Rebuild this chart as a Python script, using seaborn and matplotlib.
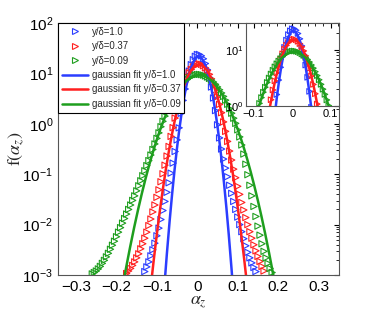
import numpy as np
import pandas as pd
import matplotlib
matplotlib.use("Agg")
import matplotlib.pyplot as plt
import seaborn as sns
from matplotlib.lines import Line2D
from matplotlib.ticker import MultipleLocator, LogLocator, NullFormatter

# measured pdf, y/delta = 1.0
x_b = [-0.130, -0.125, -0.120, -0.115, -0.110, -0.105, -0.100, -0.095, -0.090, -0.085,
       -0.080, -0.075, -0.070, -0.065, -0.060, -0.055, -0.050, -0.045,
       -0.040, -0.035, -0.030, -0.025, -0.020, -0.015, -0.010, -0.005, 0.000, 0.005,
       0.010, 0.015, 0.020, 0.025, 0.030, 0.035, 0.040, 0.045, 0.050,
       0.055, 0.060, 0.065, 0.070, 0.075, 0.080, 0.085, 0.090, 0.095, 0.100,
       0.105, 0.110, 0.115, 0.120, 0.125, 0.130, 0.135, 0.140, 0.145]
f_b = [0.00117, 0.00145, 0.00182, 0.0024, 0.00316, 0.00427, 0.0060, 0.0085, 0.0126, 0.019,
       0.0288, 0.0437, 0.0676, 0.105, 0.166, 0.282, 0.479, 0.832,
       1.61, 2.91, 4.90, 7.64, 11.1, 14.9, 18.7, 21.8, 23.7, 23.8,
       22.3, 19.5, 15.7, 11.8, 8.28, 5.37, 3.25, 1.83, 0.955,
       0.525, 0.316, 0.2, 0.132, 0.0891, 0.0603, 0.0417, 0.0288, 0.02, 0.0141,
       0.01, 0.00724, 0.00525, 0.0038, 0.00282, 0.00219, 0.00174, 0.00141, 0.00117]

# measured pdf, y/delta = 0.37
x_r = [-0.175, -0.170, -0.165, -0.160, -0.155, -0.150, -0.145, -0.140, -0.135, -0.130,
       -0.125, -0.120, -0.115, -0.110, -0.105, -0.100, -0.095, -0.090, -0.085, -0.080,
       -0.075, -0.070, -0.065,
       -0.060, -0.055, -0.050, -0.045, -0.040, -0.035, -0.030, -0.025, -0.020, -0.015,
       -0.010, -0.005, 0.000, 0.005, 0.010, 0.015, 0.020, 0.025, 0.030, 0.035,
       0.040, 0.045, 0.050, 0.055, 0.060, 0.065,
       0.070, 0.075, 0.080, 0.085, 0.090, 0.095, 0.100, 0.105, 0.110, 0.115,
       0.120, 0.125, 0.130, 0.135, 0.140, 0.145, 0.150, 0.155, 0.160, 0.165]
f_r = [0.00107, 0.0012, 0.00135, 0.00155, 0.00182, 0.00219, 0.00263, 0.00331, 0.00417, 0.00537,
       0.00708, 0.00955, 0.0129, 0.0178, 0.0245, 0.0347, 0.049, 0.0708, 0.102, 0.151,
       0.229, 0.355, 0.562,
       0.84, 1.30, 1.94, 2.81, 3.90, 5.25, 6.81, 8.51, 10.3, 12.0,
       13.5, 14.6, 15.3, 15.5, 15.1, 14.2, 12.9, 11.3, 9.57, 7.82,
       6.15, 4.69, 3.44, 2.43, 1.66, 1.09,
       0.708, 0.447, 0.288, 0.191, 0.126, 0.0851, 0.0575, 0.0398, 0.0275, 0.0195,
       0.0138, 0.01, 0.00724, 0.00537, 0.00398, 0.00302, 0.00234, 0.00186, 0.00148, 0.0012]

# measured pdf, y/delta = 0.09
x_g = [-0.260, -0.255, -0.250, -0.245, -0.240, -0.235, -0.230, -0.225, -0.220, -0.215,
       -0.210, -0.205, -0.200, -0.195, -0.190, -0.185, -0.180, -0.175, -0.170, -0.165,
       -0.160, -0.155, -0.150, -0.145, -0.140, -0.135, -0.130, -0.125, -0.120, -0.115,
       -0.110, -0.105, -0.100, -0.095,
       -0.090, -0.085, -0.080, -0.075, -0.070, -0.065, -0.060, -0.055, -0.050, -0.045,
       -0.040, -0.035, -0.030, -0.025, -0.020, -0.015, -0.010, -0.005, 0.000, 0.005,
       0.010, 0.015, 0.020, 0.025, 0.030, 0.035, 0.040, 0.045, 0.050, 0.055,
       0.060, 0.065, 0.070, 0.075, 0.080, 0.085, 0.090, 0.095,
       0.100, 0.105, 0.110, 0.115, 0.120, 0.125, 0.130, 0.135, 0.140, 0.145,
       0.150, 0.155, 0.160, 0.165, 0.170, 0.175, 0.180, 0.185]
f_g = [0.00105, 0.00112, 0.0012, 0.00132, 0.00148, 0.0017, 0.00195, 0.00229, 0.00269, 0.00324,
       0.00389, 0.00468, 0.00575, 0.00708, 0.00871, 0.0107, 0.0132, 0.0162, 0.02, 0.0245,
       0.0302, 0.0372, 0.0468, 0.0589, 0.0741, 0.0933, 0.117, 0.148, 0.186, 0.24,
       0.309, 0.398, 0.513, 0.661,
       0.875, 1.12, 1.42, 1.77, 2.17, 2.64, 3.16, 3.72, 4.35, 4.99,
       5.66, 6.32, 6.98, 7.60, 8.17, 8.67, 9.06, 9.33, 9.51, 9.55,
       9.46, 9.25, 8.91, 8.47, 7.96, 7.36, 6.73, 6.07, 5.38, 4.73,
       4.09, 3.49, 2.94, 2.44, 2.0, 1.62, 1.29, 1.02,
       0.759, 0.55, 0.38, 0.251, 0.158, 0.0977, 0.0603, 0.0372, 0.0229, 0.0145,
       0.00933, 0.00617, 0.00417, 0.00295, 0.00219, 0.0017, 0.00135, 0.00112]

labels = ["y/δ=1.0", "y/δ=0.37", "y/δ=0.09"]
fit_mean = [0.003, 0.004, 0.004]
fit_std = [0.0185, 0.0265, 0.043]
colors = ["#2b3dff", "#ff1f1f", "#1e9e1e"]

sns.set_style("white")
plt.rcParams["font.family"] = ["Liberation Sans", "DejaVu Sans"]
plt.rcParams["mathtext.fontset"] = "stix"

fig = plt.figure(figsize=(3.74, 3.15), dpi=100)
ax = fig.add_axes([0.155, 0.127, 0.751, 0.800])
ins = fig.add_axes([0.658, 0.663, 0.249, 0.264])

xs = np.linspace(-0.34, 0.35, 700)
series = [(x_b, f_b), (x_r, f_r), (x_g, f_g)]

for a, ms in [(ax, 4.5), (ins, 4.0)]:
    for (xd, fd), c in zip(series, colors):
        sns.scatterplot(x=xd, y=fd, ax=a, marker=">", s=ms ** 2, facecolor="none",
                        edgecolor=c, linewidth=0.8, zorder=3, legend=False)
    for m, s, c in zip(fit_mean, fit_std, colors):
        fit = pd.DataFrame({"x": xs, "f": np.exp(-(xs - m) ** 2 / (2 * s ** 2)) / (s * np.sqrt(2 * np.pi))})
        fit = fit[fit.f > 5e-4]
        sns.lineplot(data=fit, x="x", y="f", ax=a, color=c, lw=1.8, zorder=4, legend=False)
    a.set_yscale("log")
    a.set_xlabel("")
    a.set_ylabel("")
    a.tick_params(which="both", direction="in", top=True, right=True, colors="black")
    a.tick_params(which="major", length=3.5)
    a.tick_params(which="minor", length=2)
    for sp in a.spines.values():
        sp.set_color("#555555")
        sp.set_linewidth(0.8)
        sp.set_visible(True)
    a.yaxis.set_minor_locator(LogLocator(base=10, subs=np.arange(2, 10)))
    a.yaxis.set_minor_formatter(NullFormatter())

ax.set_xlim(-0.345, 0.35)
ax.set_ylim(1e-3, 1e2)
ax.set_xticks([-0.3, -0.2, -0.1, 0, 0.1, 0.2, 0.3])
ax.set_xticklabels(["−0.3", "−0.2", "−0.1", "0", "0.1", "0.2", "0.3"])
ax.xaxis.set_minor_locator(MultipleLocator(0.02))
ax.tick_params(axis="both", labelsize=11)
ax.set_xlabel(r"$\alpha_z$", fontsize=13, labelpad=0)
ax.set_ylabel(r"$\mathrm{f}(\alpha_z)$", fontsize=13, labelpad=-3)

ins.set_xlim(-0.12, 0.122)
ins.set_ylim(1, 30)
ins.set_xticks([-0.1, 0, 0.1])
ins.set_xticklabels(["−0.1", "0", "0.1"])
ins.xaxis.set_minor_locator(MultipleLocator(0.02))
ins.tick_params(axis="both", labelsize=8, pad=2)
ins.set_yticks([1, 10])

handles = [Line2D([], [], ls="none", marker=">", ms=5, mfc="none", mec=c, mew=0.8) for c in colors]
handles += [Line2D([], [], color=c, lw=1.8) for c in colors]
names = labels + ["gaussian fit " + l for l in labels]
leg = ax.legend(handles, names, loc="upper left", fontsize=6.9, frameon=True, fancybox=False,
                edgecolor="black", framealpha=1, borderaxespad=0, handlelength=2.7,
                handletextpad=0.4, labelspacing=0.46, borderpad=0.4)
leg.get_frame().set_linewidth(0.8)

fig.savefig("out.png", dpi=100, facecolor="white")
